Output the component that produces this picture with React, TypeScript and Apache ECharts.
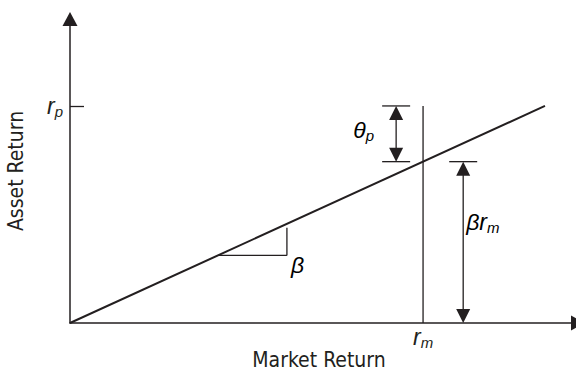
import React, { useEffect, useRef } from 'react';
import * as echarts from 'echarts';

const INK = '#231f20';
const SERIF_ITALIC = '"Liberation Sans", Arial, sans-serif';
const NARROW = '"Liberation Sans Narrow", "DejaVu Sans Condensed", "Noto Sans", sans-serif';

// Abstract scale (both axes 0..100)
const xRange = [0, 100];
const yRange = [0, 100];
// Model values
const marketReturn = 69.5; // r_m
const portfolioReturn = 71.4; // r_p
const beta = 0.7636; // slope of characteristic line
const lineX = [0, 93.5]; // extent of characteristic line
const slopeTriangleX = [29.1, 42.7];
const slopeTriangleTop = 31.3;
const thetaArrowX = 64.2;
const betaArrowX = 77.4;
const axisNames = ['Market Return', 'Asset Return'];

const rich = {
  g: { fontFamily: SERIF_ITALIC, fontStyle: 'italic', fontSize: 23, color: INK, lineHeight: 26 },
  s: { fontFamily: SERIF_ITALIC, fontStyle: 'italic', fontSize: 15, color: INK, lineHeight: 13, verticalAlign: 'bottom' },
};

export default function App() {
  const ref = useRef<HTMLDivElement>(null);
  useEffect(() => {
    const chart = echarts.init(ref.current!, null, { renderer: 'svg' });
    const betaRm = beta * marketReturn;
    const lineData = lineX.map((x) => [x, beta * x]);

    const renderItem = (_params: any, api: any) => {
      const c = (x: number, y: number) => api.coord([x, y]);
      const ln = (x1: number, y1: number, x2: number, y2: number, w: number) => ({
        type: 'line',
        shape: { x1, y1, x2, y2 },
        style: { stroke: INK, lineWidth: w },
      });
      const head = (x: number, y: number, dir: number) => ({
        type: 'polygon',
        shape: { points: [[x, y], [x - 7, y + dir * 14], [x + 7, y + dir * 14]] },
        style: { fill: INK },
      });
      const txt = (x: number, y: number, text: string, align: string) => ({
        type: 'text',
        x,
        y,
        style: { text, rich, align, verticalAlign: 'middle' },
      });
      const children: any[] = [];
      // theta_p arrow
      const tT = c(thetaArrowX, portfolioReturn);
      const tB = c(thetaArrowX, betaRm);
      children.push(ln(tT[0] - 14, tT[1], tT[0] + 14, tT[1], 1.3));
      children.push(ln(tB[0] - 14, tB[1], tB[0] + 14, tB[1], 1.3));
      children.push(ln(tT[0], tT[1] + 10, tB[0], tB[1] - 10, 1.3));
      children.push(head(tT[0], tT[1], 1));
      children.push(head(tB[0], tB[1], -1));
      children.push(txt(tT[0] - 22, (tT[1] + tB[1]) / 2 - 4, '{g|θ}{s|p}', 'right'));
      // beta * r_m arrow
      const bT = c(betaArrowX, betaRm);
      const bB = c(betaArrowX, 0);
      children.push(ln(bT[0] - 14, bT[1], bT[0] + 14, bT[1], 1.3));
      children.push(ln(bT[0], bT[1] + 10, bB[0], bB[1] - 10, 1.3));
      children.push(head(bT[0], bT[1], 1));
      children.push(head(bB[0], bB[1], -1));
      children.push(txt(bT[0] + 3, bT[1] + 60, '{g|β}{g|r}{s|m}', 'left'));
      // slope triangle
      const s0 = c(slopeTriangleX[0], beta * slopeTriangleX[0]);
      const s1 = c(slopeTriangleX[1], beta * slopeTriangleX[0]);
      const s2 = c(slopeTriangleX[1], slopeTriangleTop);
      children.push(ln(s0[0], s0[1], s1[0], s1[1], 1.3));
      children.push(ln(s1[0], s1[1], s2[0], s2[1], 1.3));
      children.push(txt(s1[0] + 4, s1[1] + 10, '{g|β}', 'left'));
      return { type: 'group', children };
    };

    chart.setOption({
      animation: false,
      backgroundColor: '#ffffff',
      grid: { left: 70, top: 19, right: -2, bottom: 47, outerBoundsMode: 'none', containLabel: false },
      xAxis: {
        type: 'value',
        min: xRange[0],
        max: xRange[1],
        name: axisNames[0],
        nameLocation: 'middle',
        nameGap: 26,
        nameMoveOverlap: false,
        nameTextStyle: { fontFamily: NARROW, fontSize: 21, color: INK, padding: [0, 10, 0, 0] },
        axisLine: { show: true, symbol: ['none', 'triangle'], symbolSize: [15, 14], lineStyle: { color: INK, width: 1.5 } },
        axisTick: { show: false },
        splitLine: { show: false },
        axisLabel: {
          show: true,
          customValues: [marketReturn],
          margin: 1,
          formatter: () => '{g|r}{s|m}',
          rich,
        },
      },
      yAxis: {
        type: 'value',
        min: yRange[0],
        max: yRange[1],
        name: axisNames[1],
        nameLocation: 'middle',
        nameGap: 44,
        nameMoveOverlap: false,
        nameRotate: 90,
        nameTextStyle: { fontFamily: NARROW, fontSize: 21, color: INK },
        axisLine: { show: true, symbol: ['none', 'triangle'], symbolSize: [15, 14], lineStyle: { color: INK, width: 1.5 } },
        axisTick: { show: true, customValues: [portfolioReturn], inside: true, length: 14, lineStyle: { color: INK, width: 1.3 } },
        splitLine: { show: false },
        axisLabel: {
          show: true,
          customValues: [portfolioReturn],
          margin: 7,
          formatter: () => '{g|r}{s|p}',
          rich,
        },
      },
      series: [
        {
          type: 'line',
          data: lineData,
          symbol: 'none',
          lineStyle: { color: INK, width: 2 },
          silent: true,
        },
        {
          type: 'line',
          data: [[marketReturn, 0], [marketReturn, portfolioReturn]],
          symbol: 'none',
          lineStyle: { color: INK, width: 1.3 },
          silent: true,
        },
        {
          type: 'custom',
          data: [[0, 0]],
          renderItem,
          silent: true,
        },
      ],
    });
    return () => chart.dispose();
  }, []);
  return (
    <div
      ref={ref}
      style={{ position: 'fixed', left: 0, top: 0, width: 576, height: 370, background: '#fff' }}
    />
  );
}
